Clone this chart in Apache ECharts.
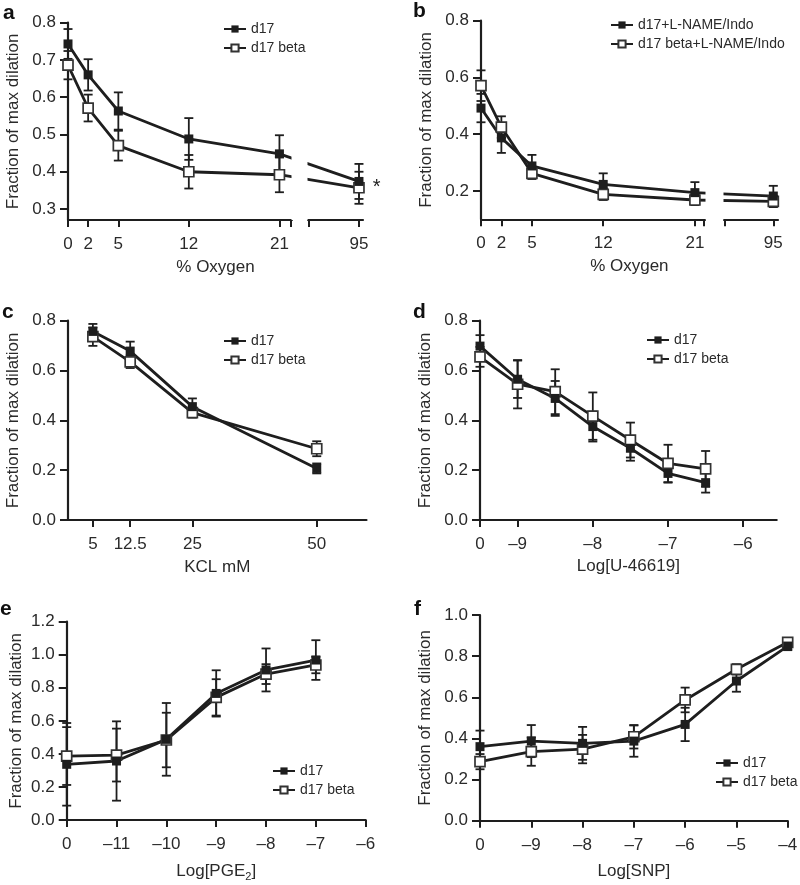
<!DOCTYPE html>
<html><head><meta charset="utf-8">
<script src="https://cdn.jsdelivr.net/npm/echarts@6/dist/echarts.min.js"></script>
<style>html,body{margin:0;padding:0;background:#fff}#c{width:800px;height:885px}</style>
</head><body><div id="c"></div>
<script>
const FONT = 'Liberation Sans, Arial, Helvetica, sans-serif';

// ---- Panel a: % Oxygen ----
const aOxygen = [0, 2, 5, 12, 21, 95];
const aD17 = [0.743, 0.660, 0.563, 0.488, 0.448, 0.374];
const aD17Err = [0.040, 0.042, 0.050, 0.056, 0.050, 0.047];
const aBeta = [0.686, 0.571, 0.470, 0.400, 0.392, 0.357];
const aBetaErr = [0.038, 0.036, 0.040, 0.045, 0.047, 0.043];
const aSignif = ['', '', '', '', '', '*'];
const aXTicks = [0, 2, 5, 12, 21, 95];
const aBreakCaps = [22.1, 90.0];
const aYTicks = [0.3, 0.4, 0.5, 0.6, 0.7, 0.8];

// ---- Panel b: % Oxygen + L-NAME/Indo ----
const bOxygen = [0, 2, 5, 12, 21, 95];
const bD17 = [0.492, 0.387, 0.288, 0.223, 0.194, 0.182];
const bD17Err = [0.050, 0.053, 0.039, 0.039, 0.037, 0.036];
const bBeta = [0.571, 0.425, 0.262, 0.188, 0.168, 0.163];
const bBetaErr = [0.054, 0.038, 0.020, 0.020, 0.018, 0.020];
const bXTicks = [0, 2, 5, 12, 21, 95];
const bBreakCaps = [21.9, 90.2];
const bYTicks = [0.2, 0.4, 0.6, 0.8];

// ---- Panel c: KCL mM ----
const cKcl = [5, 12.5, 25, 50];
const cD17 = [0.757, 0.678, 0.455, 0.207];
const cD17Err = [0.030, 0.038, 0.033, 0.020];
const cBeta = [0.736, 0.635, 0.431, 0.286];
const cBetaErr = [0.037, 0.025, 0.020, 0.030];
const cXTicks = [5, 12.5, 25, 50];
const cYTicks = [0, 0.2, 0.4, 0.6, 0.8];

// ---- Panel d: Log[U-46619] (baseline "0" drawn at -9.5) ----
const dLog = [-9.5, -9, -8.5, -8, -7.5, -7, -6.5];
const dD17 = [0.698, 0.565, 0.488, 0.375, 0.288, 0.187, 0.150];
const dD17Err = [0.044, 0.075, 0.070, 0.060, 0.050, 0.037, 0.040];
const dBeta = [0.655, 0.545, 0.515, 0.417, 0.321, 0.227, 0.205];
const dBetaErr = [0.040, 0.097, 0.090, 0.095, 0.070, 0.075, 0.072];
const dXTicks = [-9.5, -9, -8, -7, -6];
const dXLabels = ['0', '\u20139', '\u20138', '\u20137', '\u20136'];
const dYTicks = [0, 0.2, 0.4, 0.6, 0.8];

// ---- Panel e: Log[PGE2] (baseline "0" drawn at -12) ----
const eLog = [-12, -11, -10, -9, -8, -7];
const eD17 = [0.337, 0.357, 0.488, 0.766, 0.908, 0.968];
const eD17Err = [0.250, 0.240, 0.220, 0.140, 0.130, 0.120];
const eBeta = [0.387, 0.393, 0.484, 0.742, 0.883, 0.938];
const eBetaErr = [0.175, 0.160, 0.165, 0.110, 0.060, 0.050];
const eXTicks = [-12, -11, -10, -9, -8, -7, -6];
const eXLabels = ['0', '\u201311', '\u201310', '\u20139', '\u20138', '\u20137', '\u20136'];
const eYTicks = [0, 0.2, 0.4, 0.6, 0.8, 1.0, 1.2];

// ---- Panel f: Log[SNP] (baseline "0" drawn at -10) ----
const fLog = [-10, -9, -8, -7, -6, -5, -4];
const fD17 = [0.360, 0.387, 0.376, 0.387, 0.468, 0.679, 0.849];
const fD17Err = [0.078, 0.078, 0.080, 0.076, 0.081, 0.052, 0.020];
const fBeta = [0.287, 0.336, 0.348, 0.408, 0.587, 0.736, 0.867];
const fBetaErr = [0.037, 0.069, 0.069, 0.057, 0.060, 0.025, 0.015];
const fXTicks = [-10, -9, -8, -7, -6, -5, -4];
const fXLabels = ['0', '\u20139', '\u20138', '\u20137', '\u20136', '\u20135', '\u20134'];
const fYTicks = [0, 0.2, 0.4, 0.6, 0.8, 1.0];

const INK = '#1e1e1e';
const grids = [], xAxes = [], yAxes = [], series = [], legends = [], titles = [];

function addGrid(left, top, width, height) {
  grids.push({ left: left, top: top, width: width, height: height, outerBoundsMode: 'none', containLabel: false });
  return grids.length - 1;
}
function axisCommon() {
  return {
    axisLine: { show: true, onZero: false, lineStyle: { color: INK, width: 2.2 } },
    axisTick: { show: true, inside: false, length: 7, lineStyle: { color: INK, width: 2 } },
    splitLine: { show: false },
    axisLabel: { color: '#2a2a2a', fontSize: 17, fontFamily: FONT },
    nameTextStyle: { color: '#2a2a2a', fontSize: 17, fontFamily: FONT }
  };
}
function addX(gi, opt) {
  const a = Object.assign(axisCommon(), { type: 'value', gridIndex: gi, nameLocation: 'middle' }, opt);
  a.axisLabel = Object.assign(axisCommon().axisLabel, { margin: 16 }, opt.axisLabel || {});
  a.axisTick = Object.assign(axisCommon().axisTick, opt.axisTick || {});
  xAxes.push(a);
}
function addY(gi, opt) {
  const a = Object.assign(axisCommon(), { type: 'value', gridIndex: gi, nameLocation: 'middle', name: 'Fraction of max dilation', nameGap: 46 }, opt);
  a.axisLabel = Object.assign(axisCommon().axisLabel, { margin: 12, formatter: v => v.toFixed(1) }, opt.axisLabel || {});
  a.axisTick = Object.assign(axisCommon().axisTick, { length: 8 }, opt.axisTick || {});
  yAxes.push(a);
}
function errBars(gi, xs, ys, errs) {
  return {
    type: 'custom', xAxisIndex: gi, yAxisIndex: gi, silent: true, z: 3, clip: false,
    encode: { x: 0, y: [1, 2] },
    data: xs.map((x, i) => [x, ys[i] - errs[i], ys[i] + errs[i]]),
    renderItem: function (params, api) {
      const lo = api.coord([api.value(0), api.value(1)]);
      const hi = api.coord([api.value(0), api.value(2)]);
      const w = 4.5, st = { stroke: INK, lineWidth: 1.8 };
      return { type: 'group', children: [
        { type: 'line', shape: { x1: lo[0], y1: lo[1], x2: hi[0], y2: hi[1] }, style: st },
        { type: 'line', shape: { x1: lo[0] - w, y1: lo[1], x2: lo[0] + w, y2: lo[1] }, style: st },
        { type: 'line', shape: { x1: hi[0] - w, y1: hi[1], x2: hi[0] + w, y2: hi[1] }, style: st }
      ] };
    }
  };
}
function lineSeries(gi, name, xs, ys, filled, extra) {
  return Object.assign({
    type: 'line', name: name, xAxisIndex: gi, yAxisIndex: gi, z: 4,
    data: xs.map((x, i) => [x, ys[i]]),
    symbol: 'rect', symbolSize: filled ? 9 : 10, showAllSymbol: true,
    lineStyle: { color: INK, width: 2.8 },
    itemStyle: filled ? { color: INK, borderColor: INK, borderWidth: 0 } : { color: '#fff', borderColor: '#333', borderWidth: 1.7 },
    emphasis: { disabled: true }
  }, extra || {});
}
function addLegend(left, top, names) {
  legends.push({
    left: left, top: top, orient: 'vertical', itemGap: 5, itemWidth: 22, itemHeight: 9, padding: 0,
    selectedMode: false, data: names, z: 200, zlevel: 0,
    textStyle: { fontSize: 14, color: '#2a2a2a', fontFamily: FONT }
  });
}
function addTitle(text, left, top) {
  titles.push({ text: text, left: left, top: top, padding: 0,
    textStyle: { fontSize: 21, fontWeight: 'bold', color: '#111', fontFamily: FONT } });
}
const breakStyle = {
  show: true, expandOnClick: false, zigzagAmplitude: 0, zigzagZ: 10,
  itemStyle: { color: '#fff', borderColor: '#fff', borderWidth: 0, opacity: 1 }
};

// ---------- a ----------
let g = addGrid(68, 22.7, 295, 197.3);
addX(g, { min: 0, max: 95.4, name: '% Oxygen', nameGap: 39,
  breaks: [{ start: 22.2, end: 89.9, gap: 1.6 }], breakArea: breakStyle,
  axisLabel: { customValues: aXTicks }, axisTick: { customValues: aXTicks.concat(aBreakCaps) } });
addY(g, { min: 0.2705, max: 0.8, axisLabel: { customValues: aYTicks }, axisTick: { customValues: aYTicks } });
series.push(errBars(g, aOxygen, aD17, aD17Err));
series.push(errBars(g, aOxygen, aBeta, aBetaErr));
series.push(lineSeries(g, 'd17 beta', aOxygen, aBeta, false, {
  label: { show: true, position: 'right', distance: 8, fontSize: 20, color: '#222', fontFamily: FONT,
    formatter: p => aSignif[p.dataIndex] } }));
series.push(lineSeries(g, 'd17', aOxygen, aD17, true));
addLegend(223, 22, ['d17', 'd17 beta']);
addTitle('a', 3, 3);

// ---------- b ----------
g = addGrid(481, 20.7, 296.7, 198.6);
addX(g, { min: 0, max: 95.43, name: '% Oxygen', nameGap: 39,
  breaks: [{ start: 22.0, end: 90.1, gap: 1.8 }], breakArea: breakStyle,
  axisLabel: { customValues: bXTicks }, axisTick: { customValues: bXTicks.concat(bBreakCaps) } });
addY(g, { min: 0.1, max: 0.8, axisLabel: { customValues: bYTicks }, axisTick: { customValues: bYTicks } });
series.push(errBars(g, bOxygen, bD17, bD17Err));
series.push(errBars(g, bOxygen, bBeta, bBetaErr));
series.push(lineSeries(g, 'd17 beta+L-NAME/Indo', bOxygen, bBeta, false));
series.push(lineSeries(g, 'd17+L-NAME/Indo', bOxygen, bD17, true));
addLegend(610, 18, ['d17+L-NAME/Indo', 'd17 beta+L-NAME/Indo']);
addTitle('b', 413, 1);

// ---------- c ----------
g = addGrid(68, 320.7, 298.5, 199.3);
addX(g, { min: 0, max: 60, name: 'KCL mM', nameGap: 39,
  axisLabel: { customValues: cXTicks }, axisTick: { customValues: cXTicks } });
addY(g, { min: 0, max: 0.8, interval: 0.2, axisLabel: { customValues: cYTicks }, axisTick: { customValues: cYTicks } });
series.push(errBars(g, cKcl, cD17, cD17Err));
series.push(errBars(g, cKcl, cBeta, cBetaErr));
series.push(lineSeries(g, 'd17 beta', cKcl, cBeta, false));
series.push(lineSeries(g, 'd17', cKcl, cD17, true));
addLegend(223, 334, ['d17', 'd17 beta']);
addTitle('c', 2, 302);

// ---------- d ----------
g = addGrid(480, 320.7, 296.7, 199.3);
addX(g, { min: -9.5, max: -5.555, name: 'Log[U-46619]', nameGap: 38,
  axisLabel: { customValues: dXTicks, formatter: v => dXLabels[dXTicks.indexOf(v)] }, axisTick: { customValues: dXTicks } });
addY(g, { min: 0, max: 0.8, interval: 0.2, axisLabel: { customValues: dYTicks }, axisTick: { customValues: dYTicks } });
series.push(errBars(g, dLog, dD17, dD17Err));
series.push(errBars(g, dLog, dBeta, dBetaErr));
series.push(lineSeries(g, 'd17 beta', dLog, dBeta, false));
series.push(lineSeries(g, 'd17', dLog, dD17, true));
addLegend(646, 333, ['d17', 'd17 beta']);
addTitle('d', 413, 302);

// ---------- e ----------
g = addGrid(66.7, 621.7, 299, 198.3);
addX(g, { min: -12, max: -6, name: 'Log[PGE{sub|2}]', nameGap: 41,
  nameTextStyle: { color: '#2a2a2a', fontSize: 17, fontFamily: FONT,
    rich: { sub: { fontSize: 11, fontFamily: FONT, color: '#2a2a2a', verticalAlign: 'bottom', padding: [10, 0, 0, 0] } } },
  axisLabel: { customValues: eXTicks, formatter: v => eXLabels[eXTicks.indexOf(v)] }, axisTick: { customValues: eXTicks } });
addY(g, { min: 0, max: 1.2, interval: 0.2, nameGap: 42, axisLabel: { customValues: eYTicks }, axisTick: { customValues: eYTicks } });
series.push(errBars(g, eLog, eD17, eD17Err));
series.push(errBars(g, eLog, eBeta, eBetaErr));
series.push(lineSeries(g, 'd17 beta', eLog, eBeta, false));
series.push(lineSeries(g, 'd17', eLog, eD17, true));
addLegend(272, 764, ['d17', 'd17 beta']);
addTitle('e', 0, 599);

// ---------- f ----------
g = addGrid(480, 615, 307.7, 205.7);
addX(g, { min: -10, max: -4, name: 'Log[SNP]', nameGap: 42,
  axisLabel: { customValues: fXTicks, formatter: v => fXLabels[fXTicks.indexOf(v)] }, axisTick: { customValues: fXTicks } });
addY(g, { min: 0, max: 1.0, interval: 0.2, axisLabel: { customValues: fYTicks }, axisTick: { customValues: fYTicks } });
series.push(errBars(g, fLog, fD17, fD17Err));
series.push(errBars(g, fLog, fBeta, fBetaErr));
series.push(lineSeries(g, 'd17 beta', fLog, fBeta, false));
series.push(lineSeries(g, 'd17', fLog, fD17, true));
addLegend(715, 756, ['d17', 'd17 beta']);
addTitle('f', 414, 599);

const chart = echarts.init(document.getElementById('c'), null, { renderer: 'canvas' });
chart.setOption({
  backgroundColor: '#fff',
  animation: false,
  textStyle: { fontFamily: FONT },
  title: titles, grid: grids, xAxis: xAxes, yAxis: yAxes, legend: legends, series: series
});
</script></body></html>
